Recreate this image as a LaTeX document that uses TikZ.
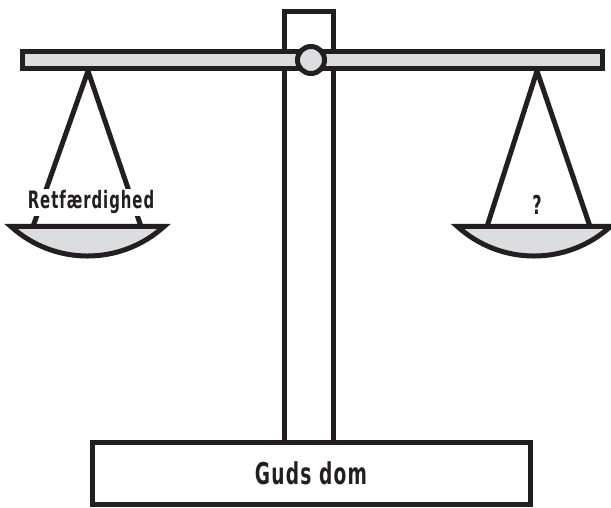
\documentclass[tikz,border=0pt]{standalone}
\usepackage{fontspec}
\newfontfamily\vaegtfont{DejaVu Sans}[FakeStretch=0.62,LetterSpace=4]
\definecolor{ink}{RGB}{35,31,32}
\definecolor{panfill}{RGB}{220,221,223}
\tikzset{
  part/.style={draw=ink, line width=5pt, line join=miter},
  lbl/.style={text=ink, anchor=base, inner sep=2pt, fill=white,
              font=\vaegtfont\bfseries\fontsize{#1}{#1}\selectfont},
  lbl/.default=24
}

\begin{document}
\begin{tikzpicture}[x=1pt,y=1pt]
  \useasboundingbox (0,0) rectangle (611,508);
  % post
  \draw[part, fill=white] (284,60) rectangle (333,496.5);
  % hangers
  \draw[part] (33,281.5) -- (88,437) -- (141,281.5);
  \draw[part] (487,281.5) -- (537,437) -- (590,281.5);
  % beam and pivot
  \draw[part, fill=panfill] (22.5,439) rectangle (602,456.5);
  \draw[part, fill=panfill] (311,448) circle (13.5);
  % pans
  \draw[part, fill=panfill] (11,281.5) -- (164,281.5)
    arc[start angle=312.2, end angle=227.8, radius=113.9] -- cycle;
  \draw[part, fill=panfill] (457.5,281.5) -- (610.5,281.5)
    arc[start angle=312.2, end angle=227.8, radius=113.9] -- cycle;
  % base
  \draw[part, fill=white] (92.5,3) rectangle (530,65.5);
  % labels
  \node[lbl] (justice) at (91,299) {Retfærdighed};
  \node[lbl=26] (unknown) at (537,293) {?};
  \node[lbl=30] (verdict) at (311,23) {Guds dom};
\end{tikzpicture}
\end{document}
